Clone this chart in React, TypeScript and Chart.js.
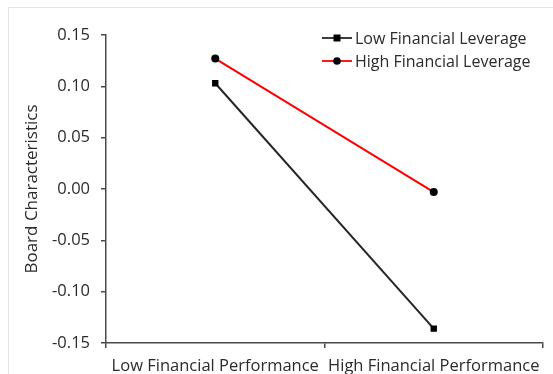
import React, { useEffect, useRef } from "react";
import { Chart, registerables } from "chart.js";

Chart.register(...registerables);

// Group labels along the x-axis
const categories = ["Low Financial Performance", "High Financial Performance"];
// Series values (board characteristics)
const lowLeverage = [0.103, -0.136];
const highLeverage = [0.127, -0.003];
const seriesNames = ["Low Financial Leverage", "High Financial Leverage"];
// Y-axis range
const yMin = -0.15;
const yMax = 0.15;
const yStep = 0.05;

const FONT = "'Open Sans', 'Liberation Sans', sans-serif";
const FS = 16.5;
const AXIS = "#4a4a4a";
const TEXT = "#2b2b2b";

// Legend drawn inside the plot area, top-right, with line + marker swatches
const insideLegend = {
  id: "insideLegend",
  afterDraw(chart: any) {
    const { ctx } = chart;
    const x0 = 322;
    const x1 = 352;
    const rows = [38, 61];
    ctx.save();
    chart.data.datasets.forEach((ds: any, i: number) => {
      const y = rows[i];
      ctx.strokeStyle = ds.borderColor;
      ctx.lineWidth = 1.8;
      ctx.beginPath();
      ctx.moveTo(x0, y);
      ctx.lineTo(x1, y);
      ctx.stroke();
      ctx.fillStyle = "#000";
      const cx = (x0 + x1) / 2;
      if (ds.pointStyle === "rect") {
        ctx.fillRect(cx - 3.5, y - 3.5, 7, 7);
      } else {
        ctx.beginPath();
        ctx.arc(cx, y, 3.8, 0, Math.PI * 2);
        ctx.fill();
      }
      ctx.fillStyle = TEXT;
      ctx.font = `16px ${FONT}`;
      ctx.textBaseline = "middle";
      ctx.textAlign = "left";
      ctx.fillText(ds.label, x1 + 3, y + 1);
    });
    ctx.restore();
  },
};

// Faint frame around the figure
const frame = {
  id: "frame",
  beforeDraw(chart: any) {
    const { ctx } = chart;
    ctx.save();
    ctx.fillStyle = "#fff";
    ctx.fillRect(0, 0, chart.width, chart.height);
    ctx.strokeStyle = "#e4e4e4";
    ctx.lineWidth = 1;
    ctx.strokeRect(8.5, 7.5, 1000, 1000);
    ctx.restore();
  },
};

export default function App() {
  const canvasRef = useRef<HTMLCanvasElement | null>(null);

  useEffect(() => {
    if (!canvasRef.current) return;
    const chart = new Chart(canvasRef.current, {
      type: "line",
      data: {
        labels: categories,
        datasets: [
          {
            label: seriesNames[0],
            data: lowLeverage,
            borderColor: "#262626",
            backgroundColor: "#000",
            borderWidth: 2,
            pointStyle: "rect",
            pointRadius: 4.5,
            pointBackgroundColor: "#000",
            pointBorderColor: "#000",
            pointBorderWidth: 0,
          },
          {
            label: seriesNames[1],
            data: highLeverage,
            borderColor: "#ff0000",
            backgroundColor: "#000",
            borderWidth: 2,
            pointStyle: "circle",
            pointRadius: 4,
            pointBackgroundColor: "#000",
            pointBorderColor: "#000",
            pointBorderWidth: 0,
          },
        ],
      },
      options: {
        responsive: false,
        animation: false,
        layout: { padding: { left: 0, right: 10, top: 35, bottom: 0 } },
        plugins: {
          legend: { display: false },
          tooltip: { enabled: false },
        },
        scales: {
          x: {
            type: "category",
            offset: true,
            grid: {
              offset: true,
              drawOnChartArea: false,
              drawTicks: true,
              tickLength: 5,
              color: AXIS,
              lineWidth: 1.5,
            },
            border: { display: true, color: AXIS, width: 1.5 },
            ticks: {
              color: TEXT,
              font: { family: FONT, size: FS },
              padding: 8,
              maxRotation: 0,
              autoSkip: false,
            },
            afterFit(scale: any) {
              scale.height = 31;
            },
          },
          y: {
            min: yMin,
            max: yMax,
            grid: {
              drawOnChartArea: false,
              drawTicks: true,
              tickLength: 5,
              color: AXIS,
              lineWidth: 1.5,
            },
            border: { display: true, color: AXIS, width: 1.5 },
            ticks: {
              stepSize: yStep,
              color: TEXT,
              font: { family: FONT, size: FS },
              padding: 11,
              callback: (v: any) => Number(v).toFixed(2),
            },
            title: {
              display: true,
              text: "Board Characteristics",
              color: TEXT,
              font: { family: FONT, size: 17 },
              padding: { top: 22, bottom: 0 },
            },
            afterFit(scale: any) {
              scale.width = 106;
            },
          },
        },
      },
      plugins: [frame, insideLegend],
    });
    return () => chart.destroy();
  }, []);

  return (
    <div style={{ position: "fixed", left: 0, top: 0, width: 553, height: 374 }}>
      <canvas ref={canvasRef} width={553} height={374} style={{ display: "block" }} />
    </div>
  );
}
